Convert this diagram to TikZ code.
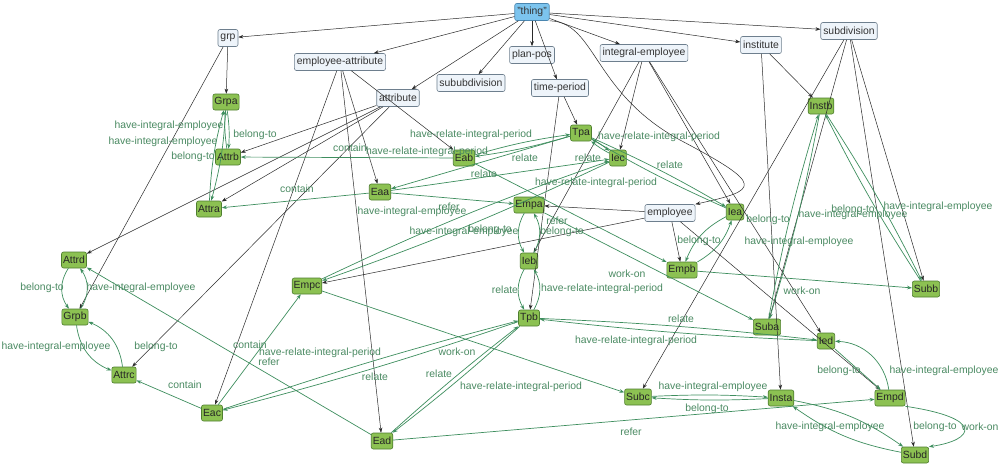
\documentclass[tikz,border=0pt]{standalone}
\usepackage{fontspec}
\setmainfont{Liberation Sans}
\usetikzlibrary{arrows.meta}
\definecolor{clsfill}{HTML}{EEF4FA}
\definecolor{clsdraw}{HTML}{6E7F8E}
\definecolor{thingfill}{HTML}{7CC4EE}
\definecolor{thingdraw}{HTML}{4A86B0}
\definecolor{indfill}{HTML}{8CC152}
\definecolor{inddraw}{HTML}{4F7F2F}
\definecolor{relc}{HTML}{3E8E5E}
\definecolor{lblc}{HTML}{4A8A62}
\definecolor{isac}{HTML}{2A2A2A}
\begin{document}
\begin{tikzpicture}[x=1pt,y=-1pt,
  every node/.style={font=\fontsize{10.4}{12}\selectfont},
  cls/.style={draw=clsdraw, fill=clsfill, rounded corners=2pt, inner xsep=2.5pt, inner ysep=0pt, minimum height=17pt, text=black!80, line width=0.6pt},
  thingbox/.style={cls, draw=thingdraw, fill=thingfill},
  ind/.style={draw=inddraw, fill=indfill, rounded corners=2pt, inner xsep=1.5pt, inner ysep=0pt, minimum height=16pt, text=black!85, line width=0.6pt},
  isa/.style={isac, line width=0.5pt, -{Stealth[length=5pt,width=3.6pt]}},
  rel/.style={relc, line width=0.7pt, -{Stealth[length=5pt,width=3.6pt]}},
  lbl/.style={text=lblc, inner sep=0pt}
]
\path[use as bounding box, fill=white] (0,0) rectangle (1004,469);

% class nodes
\node[thingbox] (T) at (532,12) {"thing"};
\node[cls] (grp) at (228,38) {grp};
\node[cls] (EA) at (340,62) {employee-attribute};
\node[cls] (attr) at (398,98) {attribute};
\node[cls] (subsub) at (471,83) {sububdivision};
\node[cls] (plan) at (532,55) {plan-pos};
\node[cls] (tp) at (560,88) {time-period};
\node[cls] (IE) at (644,53) {integral-employee};
\node[cls] (inst) at (761,45) {institute};
\node[cls] (sub) at (849,31) {subdivision};
\node[cls] (emp) at (670,213) {employee};

% individuals
\node[ind] (Grpa) at (226,102) {Grpa};
\node[ind] (Attrb) at (228,157) {Attrb};
\node[ind] (Attra) at (209,209) {Attra};
\node[ind] (Attrd) at (74,260) {Attrd};
\node[ind] (Grpb) at (75,317) {Grpb};
\node[ind] (Attrc) at (124,375) {Attrc};
\node[ind] (Eac) at (212,413) {Eac};
\node[ind] (Ead) at (382,441) {Ead};
\node[ind] (Empc) at (307,286) {Empc};
\node[ind] (Eaa) at (380,192) {Eaa};
\node[ind] (Eab) at (464,158) {Eab};
\node[ind] (Tpa) at (581,133) {Tpa};
\node[ind] (Iec) at (618,158) {Iec};
\node[ind] (Empa) at (529,205) {Empa};
\node[ind] (Ieb) at (529,261) {Ieb};
\node[ind] (Tpb) at (529,318) {Tpb};
\node[ind] (Empb) at (682,270) {Empb};
\node[ind] (Iea) at (735,212) {Iea};
\node[ind] (Instb) at (821,106) {Instb};
\node[ind] (Subb) at (926,289) {Subb};
\node[ind] (Suba) at (767,327) {Suba};
\node[ind] (Ied) at (826,341) {Ied};
\node[ind] (Subc) at (638,397) {Subc};
\node[ind] (Insta) at (781,398) {Insta};
\node[ind] (Empd) at (890,398) {Empd};
\node[ind] (Subd) at (915,455) {Subd};

% ---------- is-a edges ----------
\foreach \a/\b in {T/grp, T/EA, T/attr, T/subsub, T/plan, T/tp, T/IE, T/inst, T/sub,
  grp/Grpa, grp/Grpb, EA/Eaa, EA/Eab, EA/Eac, EA/Ead,
  attr/Attrb, attr/Attra, attr/Attrd, attr/Attrc,
  tp/Tpa, tp/Tpb, IE/Iec, IE/Ieb, IE/Iea, IE/Ied,
  inst/Instb, inst/Insta, sub/Subb, sub/Suba, sub/Subc, sub/Subd,
  emp/Empa, emp/Empb, emp/Empc, emp/Empd}
  \draw[isa] (\a) -- (\b);
\draw[isa] (T.south east) .. controls (596,22) and (592,92) .. (680,140) .. controls (765,185) and (760,190) .. (emp.north east);

% ---------- relation edges ----------
\draw[rel] (Grpa) to[bend left=6] (Attrb);
\draw[rel] (Attrb) to[bend left=6] (Grpa);
\draw[rel] (Grpa) to[bend left=6] (Attra);
\draw[rel] (Attra) to[bend left=6] (Grpa);
\draw[rel] (Eab) -- (Attrb);
\draw[rel] (Eaa) -- (Attra);
\draw[rel] (Ead) -- (Attrd);
\draw[rel] (Eac) -- (Attrc);
\draw[rel] (Attrd) to[bend right=35] (Grpb);
\draw[rel] (Grpb) to[bend right=35] (Attrd);
\draw[rel] (Grpb) to[bend right=30] (Attrc);
\draw[rel] (Attrc) to[bend right=30] (Grpb);
\draw[rel] (Eac) -- (Empc);
\draw[rel] (Eaa) -- (Empa);
\draw[rel] (Eab) -- (Empb);
\draw[rel] (Empc) to[bend left=3] (Iec);
\draw[rel] (Iec) to[bend left=3] (Empc);
\draw[rel] (Eab) to[bend left=4] (Tpa);
\draw[rel] (Tpa) to[bend left=4] (Eab);
\draw[rel] (Tpa) -- (Eaa);
\draw[rel] (Eaa) -- (Iec);
\draw[rel] (Tpa) to[bend left=5] (Iec);
\draw[rel] (Iec) to[bend left=5] (Tpa);
\draw[rel] (Tpa) to[bend left=3] (Iea);
\draw[rel] (Iea) to[bend left=3] (Tpa);
\draw[rel] (Empa) to[bend right=30] (Ieb);
\draw[rel] (Ieb) to[bend right=30] (Empa);
\draw[rel] (Ieb) to[bend right=30] (Tpb);
\draw[rel] (Tpb) to[bend right=30] (Ieb);
\draw[rel] (Eac) to[bend left=2] (Tpb);
\draw[rel] (Tpb) to[bend left=2] (Eac);
\draw[rel] (Tpb) to[bend left=2] (Ead);
\draw[rel] (Ead) to[bend left=2] (Tpb);
\draw[rel] (Empc) -- (Subc);
\draw[rel] (Empa) -- (Suba);
\draw[rel] (Iea) to[bend right=20] (Empb);
\draw[rel] (Empb) to[bend right=20] (Iea);
\draw[rel] (Instb) to[bend left=3] (Subb);
\draw[rel] (Subb) to[bend left=3] (Instb);
\draw[rel] (Instb) to[bend left=3] (Suba);
\draw[rel] (Suba) to[bend left=3] (Instb);
\draw[rel] (Empb) -- (Subb);
\draw[rel] (Tpb) to[bend left=2] (Ied);
\draw[rel] (Ied) to[bend left=2] (Tpb);
\draw[rel] (Ied) -- (Empd);
\draw[rel] (Empd) to[bend right=40] (Ied);
\draw[rel] (Subc) to[bend left=3] (Insta);
\draw[rel] (Insta) to[bend left=3] (Subc);
\draw[rel] (Insta) to[bend left=12] (Subd);
\draw[rel] (Subd) to[bend left=12] (Insta);
\draw[rel] (Empd.south east) .. controls (985,418) and (975,440) .. (Subd.north east);
\draw[rel] (Ead) -- (Empd);

% ---------- labels ----------
\node[lbl] (l1) at (169,126) {have-integral-employee};
\node[lbl] (l2) at (163,142) {have-integral-employee};
\node[lbl] (l3) at (255,135) {belong-to};
\node[lbl] (l4) at (193,157) {belong-to};
\node[lbl] (l5) at (471,135) {have-relate-integral-period};
\node[lbl] (l6) at (350,148) {contain};
\node[lbl] (l7) at (427,152) {have-relate-integral-period};
\node[lbl] (l8) at (659,137) {have-relate-integral-period};
\node[lbl] (l9) at (525,158) {relate};
\node[lbl] (l10) at (588,158) {relate};
\node[lbl] (l11) at (670,165) {relate};
\node[lbl] (l12) at (484,174) {relate};
\node[lbl] (l13) at (596,183) {have-relate-integral-period};
\node[lbl] (l14) at (297,189) {contain};
\node[lbl] (l15) at (412,212) {have-integral-employee};
\node[lbl] (l16) at (449,207) {refer};
\node[lbl] (l17) at (464,232) {have-integral-employee};
\node[lbl] (l18) at (490,230) {belong-to};
\node[lbl] (l19) at (557,221) {refer};
\node[lbl] (l20) at (562,232) {belong-to};
\node[lbl] (l21) at (699,241) {belong-to};
\node[lbl] (l22) at (799,242) {have-integral-employee};
\node[lbl] (l23) at (768,220) {belong-to};
\node[lbl] (l24) at (853,215) {have-integral-employee};
\node[lbl] (l25) at (853,210) {belong-to};
\node[lbl] (l26) at (938,207) {have-integral-employee};
\node[lbl] (l27) at (42,288) {belong-to};
\node[lbl] (l28) at (141,288) {have-integral-employee};
\node[lbl] (l29) at (627,274) {work-on};
\node[lbl] (l30) at (505,290) {relate};
\node[lbl] (l31) at (602,289) {have-relate-integral-period};
\node[lbl] (l32) at (802,291) {work-on};
\node[lbl] (l33) at (681,319) {relate};
\node[lbl] (l34) at (636,341) {have-relate-integral-period};
\node[lbl] (l35) at (56,347) {have-integral-employee};
\node[lbl] (l36) at (156,347) {belong-to};
\node[lbl] (l37) at (185,385) {contain};
\node[lbl] (l38) at (250,345) {contain};
\node[lbl] (l39) at (320,353) {have-relate-integral-period};
\node[lbl] (l40) at (269,362) {refer};
\node[lbl] (l41) at (375,377) {relate};
\node[lbl] (l42) at (457,352) {work-on};
\node[lbl] (l43) at (439,374) {relate};
\node[lbl] (l44) at (521,387) {have-relate-integral-period};
\node[lbl] (l45) at (713,387) {have-integral-employee};
\node[lbl] (l46) at (707,409) {belong-to};
\node[lbl] (l47) at (631,432) {refer};
\node[lbl] (l48) at (839,371) {belong-to};
\node[lbl] (l49) at (944,371) {have-integral-employee};
\node[lbl] (l50) at (830,427) {have-integral-employee};
\node[lbl] (l51) at (935,427) {belong-to};
\node[lbl] (l52) at (980,427) {work-on};
\end{tikzpicture}
\end{document}
